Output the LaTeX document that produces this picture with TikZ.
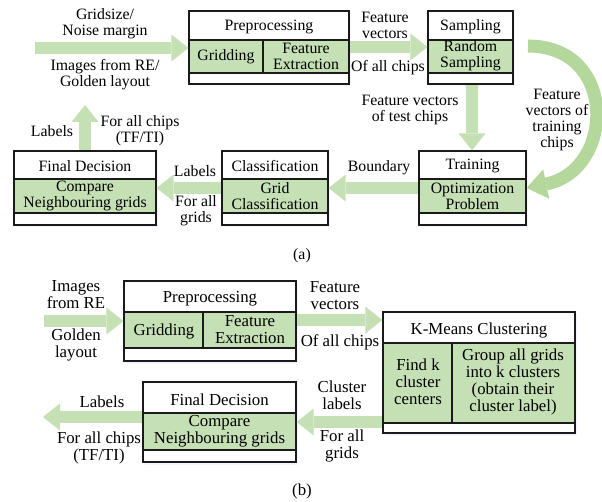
\documentclass[tikz,border=0pt]{standalone}
\usepackage{fontspec}
\setmainfont{Liberation Serif}
\usetikzlibrary{arrows.meta,fit,shadows,calc}
\definecolor{gfill}{HTML}{C5E0B4}
\definecolor{garrow}{HTML}{C5E0B4}
\definecolor{gcurve}{HTML}{B4D89C}
\definecolor{bline}{HTML}{1A1A1A}
\tikzset{
 box/.style={draw=bline, line width=1.2pt, fill=white, inner sep=0pt,
   drop shadow={shadow xshift=2pt, shadow yshift=-2.5pt, opacity=0.35, fill=blue!12}},
 band/.style={fill=gfill, draw=bline, line width=1.2pt},
 divider/.style={draw=bline, line width=1.2pt},
 ta/.style={font=\fontsize{15.8}{16}\selectfont, align=center, inner sep=0pt},
 tb/.style={font=\fontsize{16.8}{17}\selectfont, align=center, inner sep=0pt},
 flow/.style={draw=garrow, line width=12.5pt, -{Triangle[width=27pt,length=17pt,line width=0pt]}},
 flowc/.style={draw=gcurve, line width=13pt, -{Triangle[width=30pt,length=20pt,line width=0pt]}},
}
\begin{document}
\begin{tikzpicture}[x=1pt,y=-1pt]
\useasboundingbox (0,0) rectangle (602,502);

% ---------------- (a) ----------------
\node[box, fit={(189,11) (349,84)}] (pa) {};
\draw[band] (189,40) rectangle (349,73);
\draw[divider] (263,40) -- (263,73);
\node[ta] (pa-h) at (269,27) {Preprocessing};
\node[ta] (pa-g) at (226,57) {Gridding};
\node[ta] (pa-f) at (306,56) {Feature\\Extraction};

\node[box, fit={(428,11) (513,84)}] (sa) {};
\draw[band] (428,40) rectangle (513,73);
\node[ta] (sa-h) at (470.5,27) {Sampling};
\node[ta] (sa-g) at (470.5,56) {Random\\Sampling};

\node[box, fit={(419,151) (526,225)}] (tra) {};
\draw[band] (419,179) rectangle (526,213);
\node[ta] (tra-h) at (472.5,166) {Training};
\node[ta] (tra-g) at (472.5,196) {Optimization\\Problem};

\node[box, fit={(222,151) (328,225)}] (ca) {};
\draw[band] (222,179) rectangle (328,213);
\node[ta] (ca-h) at (275,166) {Classification};
\node[ta] (ca-g) at (275,196) {Grid\\Classification};

\node[box, fit={(14,151) (156,225)}] (fa) {};
\draw[band] (14,179) rectangle (156,213);
\node[ta] (fa-h) at (85,166) {Final Decision};
\node[ta] (fa-g) at (85,196) {Compare\\Neighbouring grids};

% arrows (a)
\coordinate (inA) at (35,48);
\draw[flow] (inA) -- (inA -| pa.west);
\draw[flow] (pa.east |- 0,47) -- (sa.west |- 0,47);
\draw[flow] (sa.south -| 472,0) -- (tra.north -| 472,0);
\coordinate (cs) at (528,46);
\draw[flowc] (cs) .. controls (618,46) and (615,170) .. (tra.east |- 0,188);
\draw[flow] (tra.west |- 0,188) -- (ca.east |- 0,188);
\draw[flow] (ca.west |- 0,188) -- (fa.east |- 0,188);
\coordinate (upA) at (85,105);
\draw[flow] (fa.north) -- (upA);

% labels (a)
\node[ta] (l1) at (105,24) {Gridsize/\\Noise margin};
\node[ta] (l2) at (105,75) {Images from RE/\\Golden layout};
\node[ta] (l3) at (385,25) {Feature\\vectors};
\node[ta] (l4) at (388,68) {Of all chips};
\node[ta] (l5) at (410,110) {Feature vectors\\of test chips};
\node[ta] (l6) at (557,120) {Feature\\vectors of\\training\\chips};
\node[ta] (l7) at (379,168) {Boundary};
\node[ta] (l8) at (195,171) {Labels};
\node[ta] (l9) at (196,211) {For all\\grids};
\node[ta] (l10) at (52,131) {Labels};
\node[ta] (l11) at (140,131) {For all chips\\(TF/TI)};
\node[ta] (capa) at (302,256) {(a)};

% ---------------- (b) ----------------
\node[box, fit={(124,281) (296,361)}] (pb) {};
\draw[band] (124,312) rectangle (296,348);
\draw[divider] (203,312) -- (203,348);
\node[tb] (pb-h) at (210,299) {Preprocessing};
\node[tb] (pb-g) at (164,331) {Gridding};
\node[tb] (pb-f) at (250,330) {Feature\\Extraction};

\node[box, fit={(383,312) (575,433)}] (kb) {};
\draw[band] (383,343) rectangle (575,423);
\draw[divider] (452,343) -- (452,423);
\node[tb] (kb-h) at (479,330) {K-Means Clustering};
\node[tb] (kb-a) at (418,382) {Find k\\cluster\\centers};
\node[tb] (kb-b) at (513,382) {Group all grids\\into k clusters\\(obtain their\\cluster label)};

\node[box, fit={(143,382) (296,462)}] (fb) {};
\draw[band] (143,413) rectangle (296,450);
\node[tb] (fb-h) at (219.5,400) {Final Decision};
\node[tb] (fb-g) at (219.5,431) {Compare\\Neighbouring grids};

% arrows (b)
\coordinate (inB) at (44,321);
\draw[flow] (inB) -- (inB -| pb.west);
\draw[flow] (pb.east |- 0,320) -- (kb.west |- 0,320);
\draw[flow] (kb.west |- 0,422) -- (fb.east |- 0,422);
\coordinate (outB) at (43,417);
\draw[flow] (fb.west |- outB) -- (outB);

% labels (b)
\node[tb] (m1) at (76,295) {Images\\from RE};
\node[tb] (m2) at (76,345) {Golden\\layout};
\node[tb] (m3) at (335,296) {Feature\\vectors};
\node[tb] (m4) at (340,342) {Of all chips};
\node[tb] (m5) at (342,395) {Cluster\\labels};
\node[tb] (m6) at (342,446) {For all\\grids};
\node[tb] (m7) at (102,402) {Labels};
\node[tb] (m8) at (99,448) {For all chips\\(TF/TI)};
\node[tb] (capb) at (302,491) {(b)};
\end{tikzpicture}
\end{document}
